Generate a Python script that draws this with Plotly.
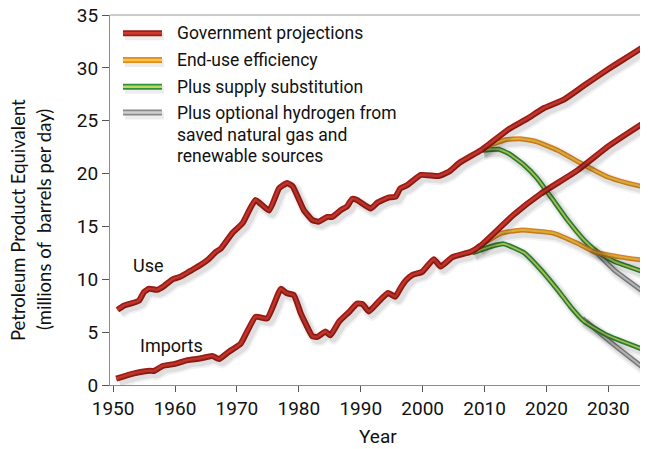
import plotly.graph_objects as go

# ---------------- data ----------------
use_years = [1950.7, 1951.7, 1953.4, 1954.2, 1955.0, 1955.8, 1957.1, 1958.3, 1959.6, 1960.9,
             1962.5, 1964.1, 1965.4, 1966.6, 1967.4, 1969.3, 1970.9, 1973.0, 1975.2, 1976.8,
             1978.1, 1979.0, 1980.8, 1982.2, 1983.2, 1984.6, 1985.4, 1986.8, 1987.8, 1988.6,
             1989.4, 1991.6, 1992.7, 1994.6, 1995.6, 1996.4, 1997.5, 1999.7, 2002.6, 2004.3,
             2005.9, 2009.4, 2011.0, 2013.9, 2016.9, 2019.6, 2022.8, 2026.0, 2030.0, 2033.0, 2035.7]
use_gov = [7.1, 7.5, 7.8, 8.0, 8.8, 9.1, 9.0, 9.4, 10.0, 10.25,
           10.8, 11.35, 11.9, 12.6, 12.9, 14.4, 15.3, 17.5, 16.5, 18.6,
           19.1, 18.8, 16.55, 15.6, 15.45, 15.9, 15.9, 16.55, 16.9, 17.6,
           17.5, 16.7, 17.25, 17.75, 17.8, 18.6, 18.9, 19.87, 19.77, 20.2,
           21.0, 22.2, 22.9, 24.2, 25.2, 26.2, 27.0, 28.3, 29.9, 31.0, 32.0]

imp_years = [1950.5, 1953.4, 1956.0, 1956.6, 1958.0, 1960.0, 1962.0, 1964.0, 1966.0, 1967.1,
             1968.7, 1970.6, 1973.0, 1974.9, 1977.1, 1978.0, 1979.2, 1980.3, 1981.1, 1982.2,
             1983.0, 1984.3, 1985.1, 1986.5, 1988.1, 1989.4, 1990.3, 1991.3, 1992.9, 1994.4,
             1995.6, 1996.4, 1997.3, 1998.3, 1999.9, 2001.8, 2002.9, 2004.8, 2007.8, 2009.4,
             2014.7, 2019.1, 2025.0, 2030.0, 2035.7]
imp_gov = [0.6, 1.1, 1.35, 1.32, 1.8, 2.0, 2.35, 2.5, 2.75, 2.45,
           3.15, 3.9, 6.45, 6.3, 9.1, 8.7, 8.5, 6.8, 5.8, 4.6,
           4.55, 5.05, 4.7, 6.0, 6.9, 7.7, 7.65, 6.95, 7.9, 8.7,
           8.35, 9.15, 9.9, 10.4, 10.7, 11.9, 11.2, 12.1, 12.6, 13.2,
           16.1, 18.1, 20.3, 22.6, 24.8]

use_eff_years = [2009.4, 2011.0, 2013.4, 2015.8, 2018.5, 2021.8, 2025.5, 2029.8, 2033.1, 2035.7]
use_eff = [22.2, 22.7, 23.2, 23.3, 23.0, 22.2, 21.0, 19.7, 19.1, 18.75]

use_sub_years = [2009.4, 2012.3, 2013.9, 2016.4, 2018.5, 2020.7, 2023.4, 2026.1, 2028.2, 2030.9, 2035.7]
use_sub = [22.2, 22.3, 21.9, 20.8, 19.55, 17.8, 15.6, 13.7, 12.6, 11.7, 10.7]

use_h2_years = [2027.0, 2030.9, 2035.7]
use_h2 = [13.2, 10.9, 8.8]

imp_eff_years = [2008.8, 2012.6, 2015.8, 2021.2, 2025.0, 2027.7, 2032.0, 2035.7]
imp_eff = [13.0, 14.35, 14.65, 14.35, 13.4, 12.6, 12.1, 11.8]

imp_sub_years = [2008.0, 2011.0, 2013.1, 2016.4, 2019.1, 2021.8, 2023.9, 2026.1, 2029.8, 2035.7]
imp_sub = [12.5, 13.1, 13.35, 12.5, 10.9, 9.0, 7.4, 6.0, 4.7, 3.35]

imp_h2_years = [2025.8, 2030.9, 2035.7]
imp_h2 = [6.3, 3.8, 1.6]

x_ticks = [1950, 1960, 1970, 1980, 1990, 2000, 2010, 2020, 2030]
y_ticks = [0, 5, 10, 15, 20, 25, 30, 35]

legend_lines = ["Government projections", "End-use efficiency", "Plus supply substitution",
                "Plus optional hydrogen from", "saved natural gas and", "renewable sources"]

# ---------------- styles ----------------
STY = {
    "red":    ("#9e1c17", "#cf3a2e", 6.0, 2.6),
    "orange": ("#e58a1f", "#f7c548", 5.0, 2.0),
    "green":  ("#2f8f3a", "#c2d85c", 5.0, 1.8),
    "grey":   ("#8a8a8a", "#cfcfcf", 5.0, 2.0),
}

series = [
    (use_h2_years, use_h2, "grey"),
    (imp_h2_years, imp_h2, "grey"),
    (use_sub_years, use_sub, "green"),
    (imp_sub_years, imp_sub, "green"),
    (use_eff_years, use_eff, "orange"),
    (imp_eff_years, imp_eff, "orange"),
    (use_years, use_gov, "red"),
    (imp_years, imp_gov, "red"),
]

fig = go.Figure()

# page body has an 8px margin: figure is drawn at offset (8, 8)
OFF = 8
FW, FH = 648 - OFF, 449 - OFF
XR = [1949.5, 2036.4]
YR = [0, 35]
L, R, T, B = 110 - OFF, 0, 15 - OFF, FH - (385 - OFF)
PW, PH = FW - L - R, FH - T - B

# drop shadows on an offset overlay axis pair
for xs, ys, key in series:
    for w, a in [(12, 0.05), (8, 0.08)]:
        fig.add_trace(go.Scatter(x=xs, y=ys, mode="lines", xaxis="x2", yaxis="y2",
                                 line=dict(color=f"rgba(0,0,0,{a})", width=w, shape="spline", smoothing=0.4),
                                 hoverinfo="skip", showlegend=False))

for xs, ys, key in series:
    outer, inner, wo, wi = STY[key]
    fig.add_trace(go.Scatter(x=xs, y=ys, mode="lines",
                             line=dict(color=outer, width=wo, shape="spline", smoothing=0.4),
                             hoverinfo="skip", showlegend=False))
    fig.add_trace(go.Scatter(x=xs, y=ys, mode="lines",
                             line=dict(color=inner, width=wi, shape="spline", smoothing=0.4),
                             hoverinfo="skip", showlegend=False))

tickfont = dict(family="Roboto", size=19, color="#111")

fig.update_layout(
    width=FW, height=FH,
    margin=dict(l=L, r=R, t=T, b=B, autoexpand=False),
    paper_bgcolor="white", plot_bgcolor="white",
    showlegend=False,
    xaxis=dict(range=XR, tickvals=x_ticks, ticktext=[str(t) for t in x_ticks], automargin=False,
               showgrid=False, zeroline=False, showline=True, linecolor="#8c8c8c", linewidth=1.2,
               ticks="outside", ticklen=6, tickcolor="#555", tickfont=tickfont,
               ticklabeloverflow="allow"),
    yaxis=dict(range=YR, tickvals=y_ticks, showgrid=False, zeroline=False, showline=True, automargin=False,
               linecolor="#8c8c8c", linewidth=1.2, ticks="outside", ticklen=7, tickcolor="#555",
               tickfont=tickfont, ticklabeloverflow="allow"),
    xaxis2=dict(range=[XR[0] - 0.5, XR[1] - 0.5], overlaying="x", visible=False),
    yaxis2=dict(range=[YR[0] + 0.32, YR[1] + 0.32], overlaying="y", visible=False),
)

# top frame line
fig.add_shape(type="line", xref="paper", yref="paper", x0=0, x1=1, y0=1, y1=1,
              line=dict(color="#9a9a9a", width=1.2))

def px(xpix):
    return (xpix - OFF - L) / PW

def py(ypix):
    return 1 - (ypix - OFF - T) / PH

# x axis title
fig.add_annotation(xref="paper", yref="paper", x=px(378), y=py(436), xanchor="center", yanchor="middle",
                   text="Year", showarrow=False, font=dict(family="Roboto", size=19, color="#111"))

# y axis title (two lines)
fig.add_annotation(xref="paper", yref="paper", x=px(18), y=py(220), xanchor="center", yanchor="middle",
                   text="Petroleum Product Equivalent", textangle=-90, showarrow=False,
                   font=dict(family="Lato", size=18.5, color="#111"))
fig.add_annotation(xref="paper", yref="paper", x=px(44), y=py(220), xanchor="center", yanchor="middle",
                   text="(millions of  barrels per day)", textangle=-90, showarrow=False,
                   font=dict(family="Lato", size=18.5, color="#111"))

# series labels
fig.add_annotation(x=1955.7, y=11.26, text="Use", showarrow=False,
                   font=dict(family="Roboto", size=18, color="#111"))
fig.add_annotation(x=1959.5, y=3.73, text="Imports", showarrow=False,
                   font=dict(family="Roboto", size=18, color="#111"))

# manual legend
leg_keys = ["red", "orange", "green", "grey"]
swatch_y = [33.3, 60, 86.7, 112.5]
text_y = [33.3, 60, 86.7, 113.3, 135, 155.5]
for key, yy in zip(leg_keys, swatch_y):
    outer, inner, wo, wi = STY[key]
    fig.add_shape(type="line", xref="paper", yref="paper", x0=px(125), x1=px(164), y0=py(yy + 3), y1=py(yy + 3),
                  line=dict(color="rgba(0,0,0,0.07)", width=8))
    fig.add_shape(type="line", xref="paper", yref="paper", x0=px(123), x1=px(162), y0=py(yy), y1=py(yy),
                  line=dict(color=outer, width=6))
    fig.add_shape(type="line", xref="paper", yref="paper", x0=px(123), x1=px(162), y0=py(yy), y1=py(yy),
                  line=dict(color=inner, width=2.5))
for lab, yy in zip(legend_lines, text_y):
    fig.add_annotation(xref="paper", yref="paper", x=px(175), y=py(yy), xanchor="left", yanchor="middle",
                       text=lab, showarrow=False, align="left",
                       font=dict(family="Roboto", size=17.5, color="#111"))

fig.write_html("out.html")
